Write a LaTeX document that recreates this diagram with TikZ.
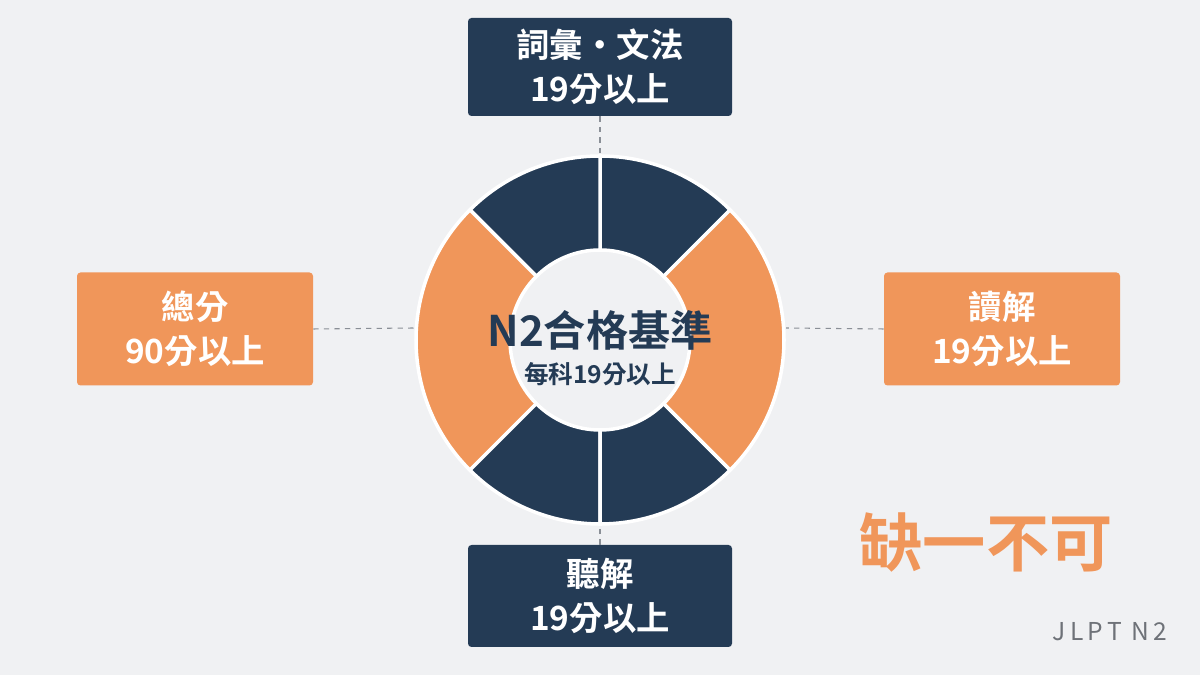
\documentclass[tikz,border=0pt]{standalone}
\usepackage{fontspec}
\setmainfont{Noto Sans CJK TC}[BoldFont={Noto Sans CJK TC Bold}]
\usetikzlibrary{positioning}
\definecolor{navy}{HTML}{243B55}
\definecolor{peach}{HTML}{F0965A}
\definecolor{bgcol}{HTML}{F0F1F3}
\definecolor{linegray}{HTML}{8A8F96}
\tikzset{
  box/.style={rectangle, rounded corners=2pt, minimum width=264*0.02cm, minimum height=98*0.02cm,
    text=white, font=\bfseries\fontsize{19}{25}\selectfont, align=center, inner sep=0pt},
  navybox/.style={box, fill=navy},
  peachbox/.style={box, fill=peach, minimum width=236*0.02cm, minimum height=113*0.02cm},
  guide/.style={draw=linegray, dashed, line width=0.6pt},
}
\begin{document}
\begin{tikzpicture}[x=0.02cm, y=0.02cm]
  \fill[bgcol] (0,0) rectangle (1200,675);
  \useasboundingbox (0,0) rectangle (1200,675);
  \coordinate (c) at (600,335);
  % ring segments
  \foreach \a/\b/\col in {45/90/navy, 90/135/navy, 135/225/peach, 225/270/navy, 270/315/navy, -45/45/peach}
    \fill[\col, draw=white, line width=2pt] ([shift={(\a:184)}]c) arc (\a:\b:184)
      -- ([shift={(\b:90)}]c) arc (\b:\a:90) -- cycle;
  % boxes
  \node[navybox] (vocab) at (600,608) {詞彙・文法\\19分以上};
  \node[navybox, minimum height=102*0.02cm] (listen) at (600,79) {聽解\\19分以上};
  \node[peachbox] (total) at (195,346) {總分\\90分以上};
  \node[peachbox] (read) at (1002,346) {讀解\\19分以上};
  % guides
  \coordinate (rtop) at (600,520);
  \coordinate (rbot) at (600,150);
  \coordinate (rleft) at (414,347);
  \coordinate (rright) at (786,347);
  \draw[guide] (vocab.south) -- (rtop);
  \draw[guide] (listen.north) -- (rbot);
  \draw[guide] (total.east) -- (rleft);
  \draw[guide] (read.west) -- (rright);
  % centre
  \node[text=navy, font=\bfseries\fontsize{24}{28}\selectfont] (title) at (600,345) {N2合格基準};
  \node[text=navy, font=\bfseries\fontsize{14}{17}\selectfont, below=0pt of title] (sub) {每科19分以上};
  \node[text=peach, font=\bfseries\fontsize{36}{42}\selectfont] (must) at (986,132) {缺一不可};
  \node[text=linegray!80!black, font=\fontsize{14}{17}\selectfont] (tag) at (1110,43) {J\,L\,P\,T\, N\,2};
\end{tikzpicture}
\end{document}
